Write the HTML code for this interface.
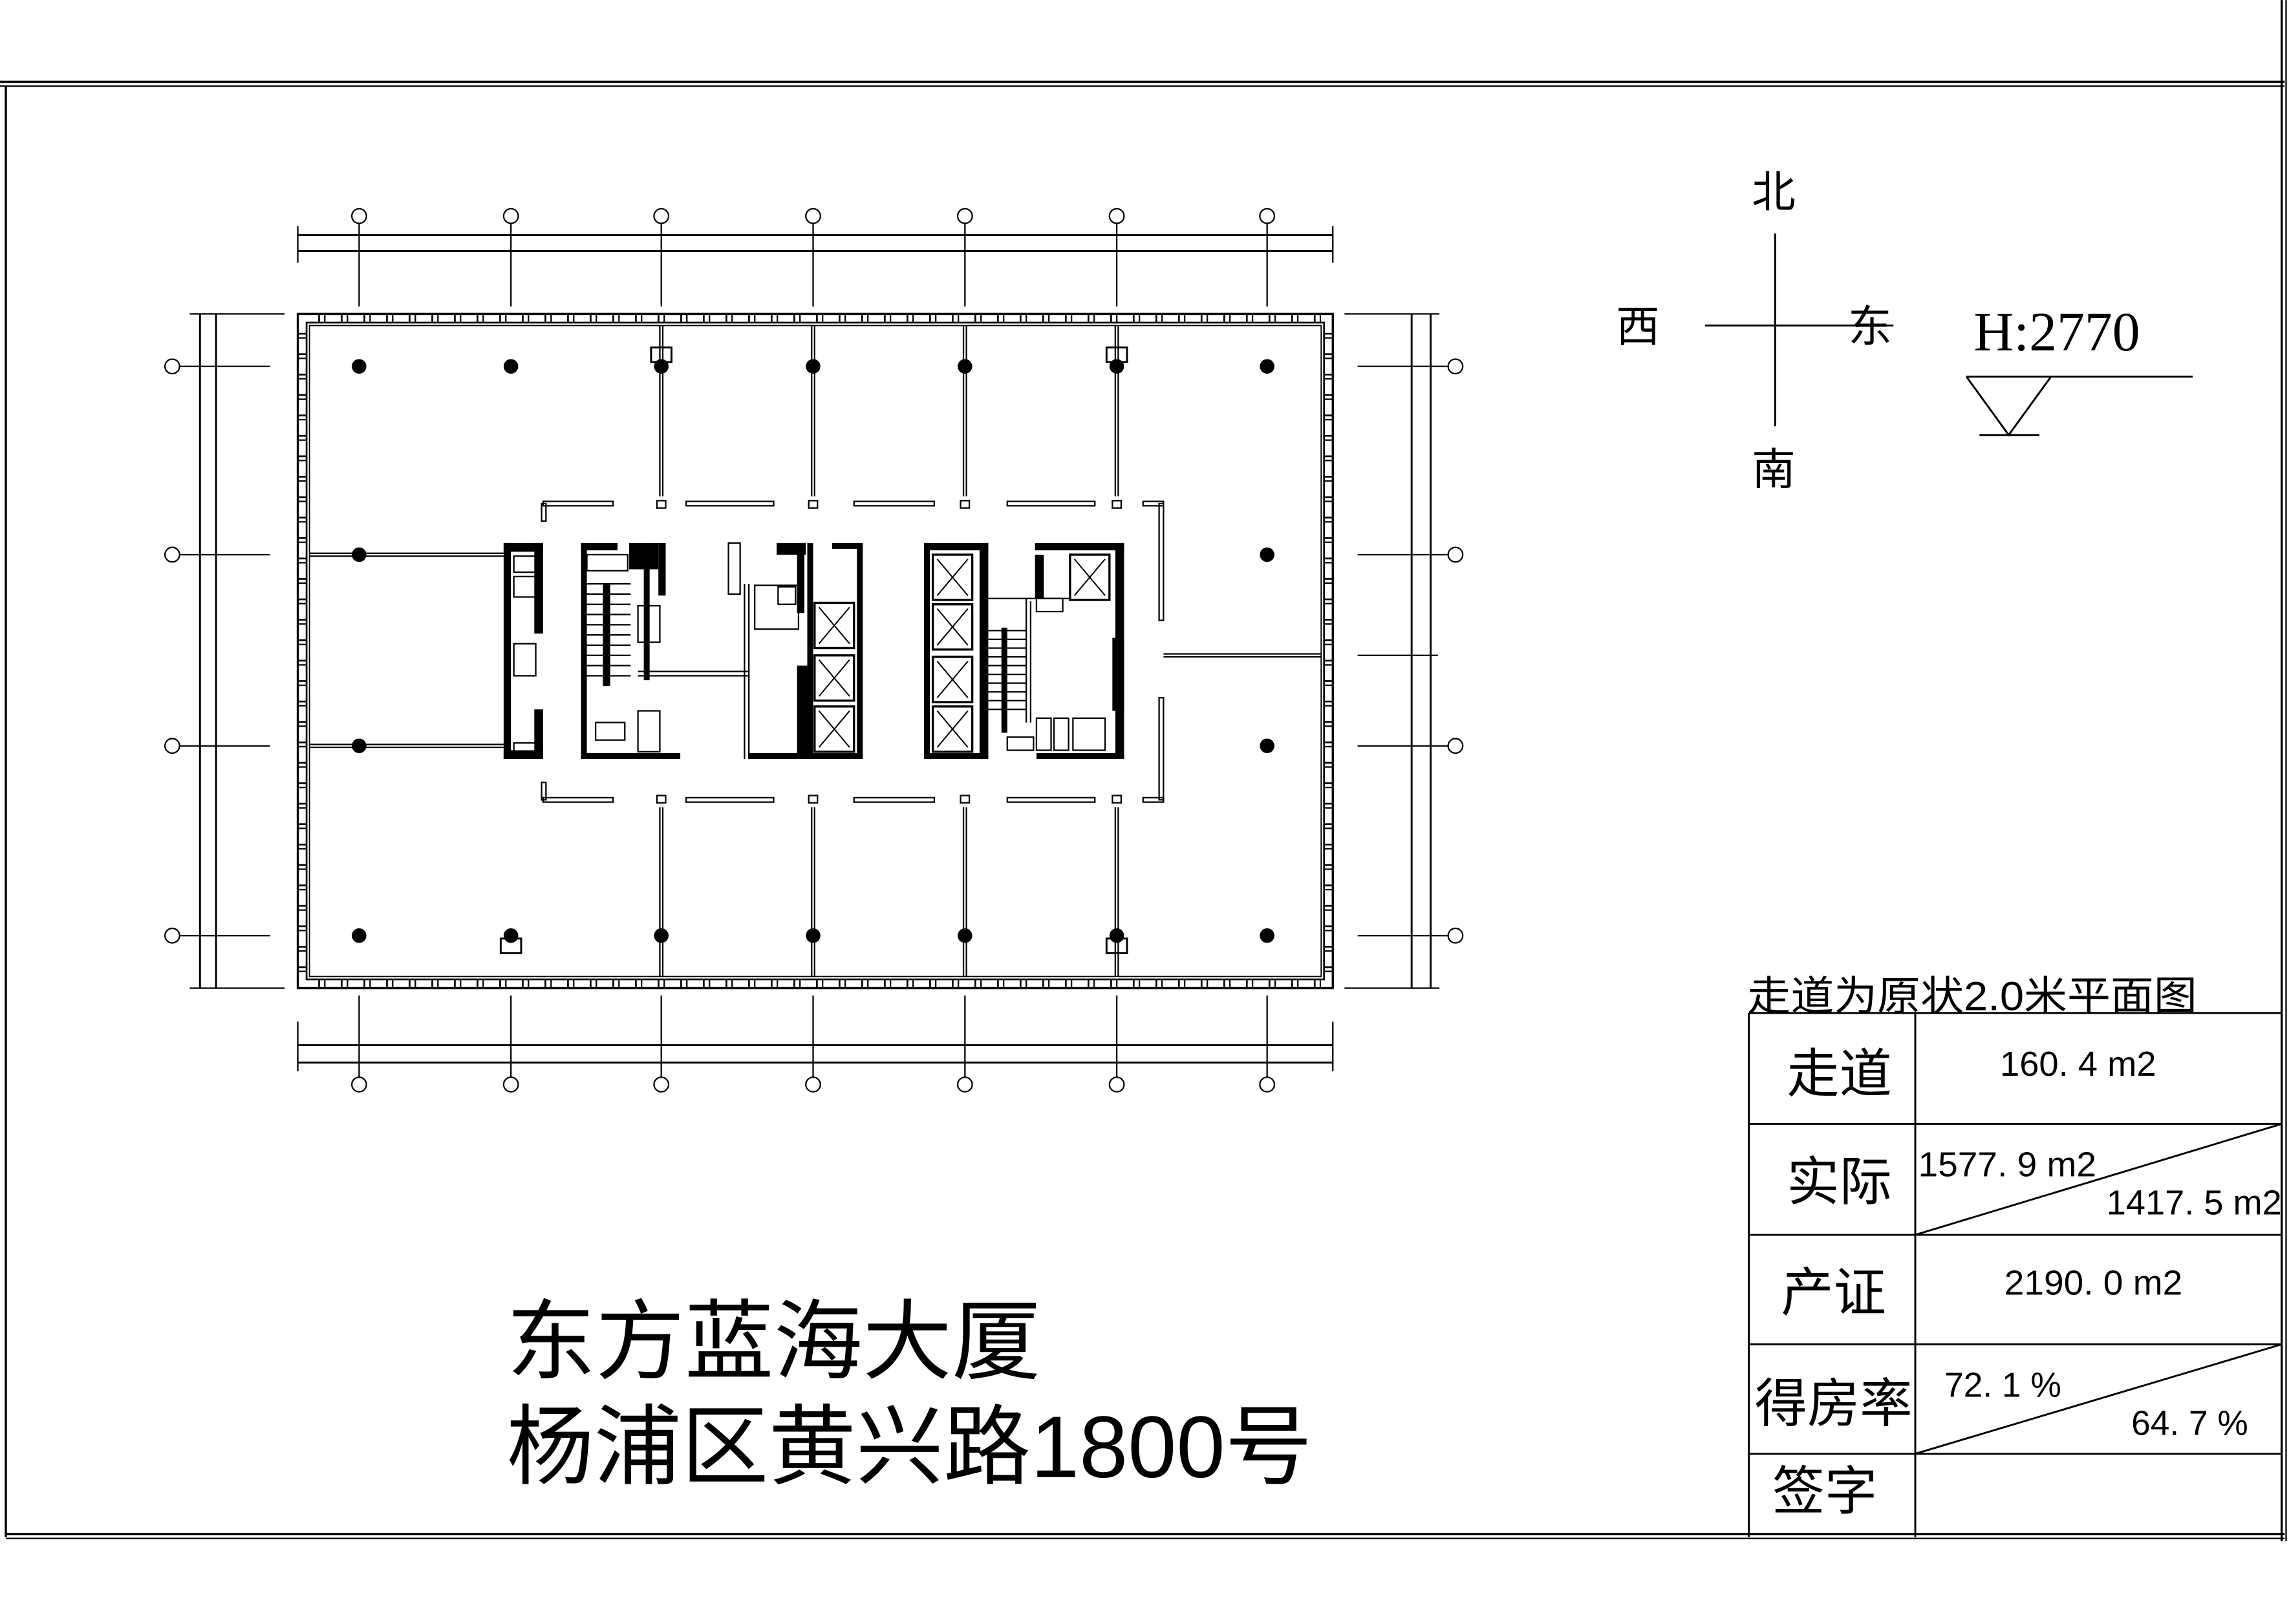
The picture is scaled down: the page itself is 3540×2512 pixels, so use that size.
<!DOCTYPE html>
<html><head><meta charset="utf-8">
<style>
html,body{margin:0;padding:0;background:#fff;}
svg{display:block;}
text{font-family:"Liberation Sans","Noto Sans CJK SC",sans-serif;fill:#000;}
</style></head>
<body>
<svg xmlns="http://www.w3.org/2000/svg" width="3540" height="2512" viewBox="0 0 1568 1112.6">
<defs>
<pattern id="pv" patternUnits="userSpaceOnUse" x="218" y="0" width="15.5" height="10"><rect x="0" y="0" width="1.2" height="10" fill="#000"/><rect x="4" y="0" width="1" height="10" fill="#000"/></pattern>
<pattern id="ph" patternUnits="userSpaceOnUse" x="0" y="228" width="10" height="14"><rect x="0" y="0" width="10" height="1.2" fill="#000"/><rect x="0" y="3" width="10" height="1" fill="#000"/></pattern>
<g id="elev"><rect x="0" y="0" width="27" height="31" fill="none" stroke="#000" stroke-width="1.5"/><line x1="3" y1="3" x2="24" y2="28" stroke="#000" stroke-width="0.9"/><line x1="24" y1="3" x2="3" y2="28" stroke="#000" stroke-width="0.9"/></g>
</defs>
<rect width="1568" height="1112.6" fill="#fff"/>
<g stroke="#000" fill="none">
<line x1="0" y1="56" x2="1565" y2="56" stroke-width="1.5"/>
<line x1="0" y1="59" x2="1565" y2="59" stroke-width="1"/>
<line x1="4" y1="59" x2="4" y2="1053" stroke-width="1.5"/>
<line x1="1563" y1="0" x2="1563" y2="1056" stroke-width="1.5"/>
<line x1="1566" y1="0" x2="1566" y2="1056" stroke-width="1"/>
<line x1="4" y1="1051" x2="1565" y2="1051" stroke-width="1.5"/>
<line x1="4" y1="1054" x2="1565" y2="1054" stroke-width="1"/>
<rect x="204" y="215" width="709" height="462" stroke-width="1.5"/>
<rect x="210" y="221" width="697" height="450" stroke-width="1.2"/>
<rect x="212" y="223" width="693" height="446" stroke-width="0.8"/>
</g>
<!-- mullions -->
<rect x="214" y="215" width="691" height="6" fill="url(#pv)"/>
<rect x="214" y="671" width="691" height="6" fill="url(#pv)"/>
<rect x="204" y="224" width="6" height="444" fill="url(#ph)"/>
<rect x="907" y="224" width="6" height="444" fill="url(#ph)"/>

<g stroke="#000" stroke-width="1" fill="none">
<!-- dims top -->
<line x1="204" y1="161" x2="913" y2="161" stroke-width="1.3"/>
<line x1="204" y1="172" x2="913" y2="172" stroke-width="1.3"/>
<line x1="204" y1="155" x2="204" y2="180"/><line x1="913" y1="155" x2="913" y2="180"/>
<line x1="246" y1="153" x2="246" y2="210"/><line x1="350" y1="153" x2="350" y2="210"/><line x1="453" y1="153" x2="453" y2="210"/><line x1="557" y1="153" x2="557" y2="210"/><line x1="661" y1="153" x2="661" y2="210"/><line x1="765" y1="153" x2="765" y2="210"/><line x1="868" y1="153" x2="868" y2="210"/>
<circle cx="246" cy="148" r="5"/><circle cx="350" cy="148" r="5"/><circle cx="453" cy="148" r="5"/><circle cx="557" cy="148" r="5"/><circle cx="661" cy="148" r="5"/><circle cx="765" cy="148" r="5"/><circle cx="868" cy="148" r="5"/>
<!-- dims bottom -->
<line x1="204" y1="716" x2="913" y2="716" stroke-width="1.3"/>
<line x1="204" y1="728" x2="913" y2="728" stroke-width="1.3"/>
<line x1="204" y1="700" x2="204" y2="734"/><line x1="913" y1="700" x2="913" y2="734"/>
<line x1="246" y1="682" x2="246" y2="738"/><line x1="350" y1="682" x2="350" y2="738"/><line x1="453" y1="682" x2="453" y2="738"/><line x1="557" y1="682" x2="557" y2="738"/><line x1="661" y1="682" x2="661" y2="738"/><line x1="765" y1="682" x2="765" y2="738"/><line x1="868" y1="682" x2="868" y2="738"/>
<circle cx="246" cy="743" r="5"/><circle cx="350" cy="743" r="5"/><circle cx="453" cy="743" r="5"/><circle cx="557" cy="743" r="5"/><circle cx="661" cy="743" r="5"/><circle cx="765" cy="743" r="5"/><circle cx="868" cy="743" r="5"/>
<!-- dims left -->
<line x1="137" y1="215" x2="137" y2="677" stroke-width="1.3"/>
<line x1="148" y1="215" x2="148" y2="677" stroke-width="1.3"/>
<line x1="130" y1="215" x2="195" y2="215"/><line x1="130" y1="677" x2="195" y2="677"/>
<line x1="123" y1="251" x2="185" y2="251"/><line x1="123" y1="380" x2="185" y2="380"/><line x1="123" y1="511" x2="185" y2="511"/><line x1="123" y1="641" x2="185" y2="641"/>
<circle cx="118" cy="251" r="5"/><circle cx="118" cy="380" r="5"/><circle cx="118" cy="511" r="5"/><circle cx="118" cy="641" r="5"/>
<!-- dims right -->
<line x1="967" y1="215" x2="967" y2="677" stroke-width="1.3"/>
<line x1="980" y1="215" x2="980" y2="677" stroke-width="1.3"/>
<line x1="921" y1="215" x2="986" y2="215"/><line x1="921" y1="677" x2="986" y2="677"/>
<line x1="930" y1="251" x2="992" y2="251"/><line x1="930" y1="380" x2="992" y2="380"/><line x1="930" y1="449" x2="985" y2="449"/><line x1="930" y1="511" x2="992" y2="511"/><line x1="930" y1="641" x2="992" y2="641"/>
<circle cx="997" cy="251" r="5"/><circle cx="997" cy="380" r="5"/><circle cx="997" cy="511" r="5"/><circle cx="997" cy="641" r="5"/>
<!-- partitions -->
<line x1="452" y1="223" x2="452" y2="340"/><line x1="454" y1="223" x2="454" y2="340"/>
<line x1="556" y1="223" x2="556" y2="340"/><line x1="558" y1="223" x2="558" y2="340"/>
<line x1="660" y1="223" x2="660" y2="340"/><line x1="662" y1="223" x2="662" y2="340"/>
<line x1="764" y1="223" x2="764" y2="340"/><line x1="766" y1="223" x2="766" y2="340"/>
<line x1="452" y1="553" x2="452" y2="669"/><line x1="454" y1="553" x2="454" y2="669"/>
<line x1="556" y1="553" x2="556" y2="669"/><line x1="558" y1="553" x2="558" y2="669"/>
<line x1="660" y1="553" x2="660" y2="669"/><line x1="662" y1="553" x2="662" y2="669"/>
<line x1="764" y1="553" x2="764" y2="669"/><line x1="766" y1="553" x2="766" y2="669"/>
<line x1="212" y1="379" x2="345" y2="379"/><line x1="212" y1="381" x2="345" y2="381"/>
<line x1="212" y1="510" x2="345" y2="510"/><line x1="212" y1="512" x2="345" y2="512"/>
<line x1="797" y1="448" x2="905" y2="448"/><line x1="797" y1="450" x2="905" y2="450"/>
<rect x="446" y="238" width="14" height="10" stroke-width="1.3"/><rect x="758" y="238" width="14" height="10" stroke-width="1.3"/>
<rect x="343" y="643" width="14" height="10" stroke-width="1.3"/><rect x="758" y="643" width="14" height="10" stroke-width="1.3"/>
<!-- corridor dashed outline -->
<rect x="372" y="343.5" width="48" height="3"/><rect x="470" y="343.5" width="60" height="3"/><rect x="585" y="343.5" width="55" height="3"/><rect x="690" y="343.5" width="60" height="3"/><rect x="783" y="343.5" width="14" height="3"/>
<rect x="372" y="546.5" width="48" height="3"/><rect x="470" y="546.5" width="60" height="3"/><rect x="585" y="546.5" width="55" height="3"/><rect x="690" y="546.5" width="60" height="3"/><rect x="783" y="546.5" width="14" height="3"/>
<rect x="371" y="345" width="3" height="12"/><rect x="371" y="536" width="3" height="12"/>
<rect x="794" y="345" width="3" height="80"/><rect x="794" y="478" width="3" height="70"/>
<rect x="450" y="343" width="6" height="5"/><rect x="554" y="343" width="6" height="5"/><rect x="658" y="343" width="6" height="5"/><rect x="762" y="343" width="6" height="5"/>
<rect x="450" y="545" width="6" height="5"/><rect x="554" y="545" width="6" height="5"/><rect x="658" y="545" width="6" height="5"/><rect x="762" y="545" width="6" height="5"/>
<!-- core thin -->
<rect x="352" y="381" width="15" height="11"/><rect x="352" y="395" width="15" height="14"/><rect x="352" y="441" width="15" height="22"/><rect x="352" y="509" width="15" height="8"/>
<rect x="402" y="380" width="28" height="11"/><rect x="499" y="372" width="8" height="35"/><rect x="517" y="401" width="30" height="30"/><rect x="533" y="402" width="12" height="12"/>
<line x1="437" y1="460" x2="513" y2="460"/><line x1="437" y1="463" x2="513" y2="463"/><line x1="510" y1="400" x2="510" y2="520"/><line x1="513" y1="400" x2="513" y2="520"/>
<rect x="437" y="415" width="15" height="25"/><rect x="437" y="487" width="15" height="28"/><rect x="408" y="495" width="20" height="12"/>
<line x1="402" y1="400" x2="432" y2="400"/><line x1="402" y1="407" x2="432" y2="407"/><line x1="402" y1="414" x2="432" y2="414"/><line x1="402" y1="421" x2="432" y2="421"/><line x1="402" y1="428" x2="432" y2="428"/><line x1="402" y1="435" x2="432" y2="435"/><line x1="402" y1="442" x2="432" y2="442"/><line x1="402" y1="449" x2="432" y2="449"/><line x1="402" y1="456" x2="432" y2="456"/><line x1="402" y1="463" x2="432" y2="463"/>
<line x1="672" y1="432" x2="703" y2="432"/><line x1="672" y1="438" x2="703" y2="438"/><line x1="672" y1="444" x2="703" y2="444"/><line x1="672" y1="450" x2="703" y2="450"/><line x1="672" y1="456" x2="703" y2="456"/><line x1="672" y1="462" x2="703" y2="462"/><line x1="672" y1="468" x2="703" y2="468"/><line x1="672" y1="474" x2="703" y2="474"/><line x1="672" y1="480" x2="703" y2="480"/><line x1="672" y1="486" x2="703" y2="486"/>
<line x1="677" y1="410" x2="733" y2="410"/><line x1="703" y1="410" x2="703" y2="495"/><line x1="706" y1="412" x2="706" y2="495"/>
<rect x="710" y="410" width="18" height="9"/><rect x="710" y="492" width="10" height="22"/><rect x="722" y="492" width="10" height="22"/><rect x="735" y="492" width="22" height="22"/><rect x="690" y="505" width="18" height="9"/>
</g>
<!-- columns -->
<g fill="#000">
<circle cx="246" cy="251" r="5"/><circle cx="350" cy="251" r="5"/><circle cx="453" cy="251" r="5"/><circle cx="557" cy="251" r="5"/><circle cx="661" cy="251" r="5"/><circle cx="765" cy="251" r="5"/><circle cx="868" cy="251" r="5"/>
<circle cx="246" cy="641" r="5"/><circle cx="350" cy="641" r="5"/><circle cx="453" cy="641" r="5"/><circle cx="557" cy="641" r="5"/><circle cx="661" cy="641" r="5"/><circle cx="765" cy="641" r="5"/><circle cx="868" cy="641" r="5"/>
<circle cx="246" cy="380" r="5"/><circle cx="868" cy="380" r="5"/><circle cx="246" cy="511" r="5"/><circle cx="868" cy="511" r="5"/>
<!-- core solid walls -->
<rect x="345" y="372" width="27" height="6"/><rect x="345" y="372" width="5" height="148"/><rect x="345" y="514" width="27" height="6"/><rect x="366" y="372" width="6" height="62"/><rect x="366" y="486" width="6" height="34"/>
<rect x="398" y="372" width="25" height="5"/><rect x="398" y="372" width="4" height="148"/><rect x="398" y="516" width="68" height="4"/>
<rect x="431" y="372" width="20" height="18"/><rect x="441" y="372" width="4" height="94"/><rect x="451" y="372" width="5" height="36"/>
<rect x="532" y="372" width="20" height="8"/><rect x="553" y="372" width="4" height="148"/><rect x="546" y="372" width="5" height="48"/>
<rect x="513" y="516" width="78" height="4"/><rect x="587" y="372" width="4" height="148"/><rect x="570" y="372" width="21" height="4"/><rect x="546" y="456" width="8" height="60"/>
<rect x="413" y="400" width="5" height="70"/>
<rect x="633" y="372" width="44" height="5"/><rect x="633" y="372" width="4" height="148"/><rect x="633" y="516" width="44" height="4"/><rect x="671" y="372" width="6" height="148"/>
<rect x="709" y="372" width="61" height="5"/><rect x="764" y="372" width="6" height="148"/><rect x="710" y="516" width="60" height="4"/><rect x="709" y="380" width="6" height="30"/><rect x="762" y="437" width="8" height="50"/>
<rect x="686" y="430" width="4" height="72"/>
</g>
<use href="#elev" x="558" y="413"/><use href="#elev" x="558" y="449"/><use href="#elev" x="558" y="484"/>
<use href="#elev" x="639" y="380"/><use href="#elev" x="639" y="414"/><use href="#elev" x="639" y="450"/><use href="#elev" x="639" y="484"/><use href="#elev" x="733" y="380"/>
<!-- compass -->
<g stroke="#000" stroke-width="1.3">
<line x1="1216" y1="160" x2="1216" y2="292"/>
<line x1="1168" y1="223" x2="1297" y2="223"/>
<line x1="1347" y1="258" x2="1502" y2="258"/>
<polyline points="1347,258 1376,298 1405,258" fill="none"/>
<line x1="1356" y1="298" x2="1397" y2="298"/>
</g>
<text x="1215" y="142" font-size="30" text-anchor="middle">北</text>
<text x="1215" y="332" font-size="30" text-anchor="middle">南</text>
<text x="1122" y="234" font-size="30" text-anchor="middle">西</text>
<text x="1281" y="234" font-size="30" text-anchor="middle">东</text>
<text x="1352" y="240" font-size="38" style="font-family:'Liberation Serif',serif">H:2770</text>
<!-- table -->
<text x="1197" y="692" font-size="28" textLength="308" lengthAdjust="spacingAndGlyphs">走道为原状2.0米平面图</text>
<g stroke="#000" stroke-width="1.3" fill="none">
<line x1="1198" y1="694" x2="1563" y2="694"/>
<line x1="1198" y1="770" x2="1563" y2="770"/>
<line x1="1198" y1="846" x2="1563" y2="846"/>
<line x1="1198" y1="921" x2="1563" y2="921"/>
<line x1="1198" y1="996" x2="1563" y2="996"/>
<line x1="1198" y1="694" x2="1198" y2="1053"/>
<line x1="1312" y1="694" x2="1312" y2="1053"/>
<line x1="1312" y1="846" x2="1563" y2="770"/>
<line x1="1312" y1="996" x2="1563" y2="921"/>
</g>
<g font-size="36" text-anchor="middle">
<text x="1260" y="748">走道</text>
<text x="1260" y="822">实际</text>
<text x="1256" y="898">产证</text>
<text x="1256" y="974">得房率</text>
<text x="1250" y="1034">签字</text>
</g>
<g font-size="24">
<text x="1370" y="737" textLength="107" lengthAdjust="spacingAndGlyphs">160. 4  m2</text>
<text x="1314" y="806" textLength="122" lengthAdjust="spacingAndGlyphs">1577. 9  m2</text>
<text x="1443" y="832" textLength="120" lengthAdjust="spacingAndGlyphs">1417. 5  m2</text>
<text x="1373" y="887" textLength="122" lengthAdjust="spacingAndGlyphs">2190. 0  m2</text>
<text x="1332" y="957" textLength="80" lengthAdjust="spacingAndGlyphs">72. 1  %</text>
<text x="1460" y="983" textLength="80" lengthAdjust="spacingAndGlyphs">64. 7  %</text>
</g>
<text x="347" y="940" font-size="60" textLength="366" lengthAdjust="spacingAndGlyphs">东方蓝海大厦</text>
<text x="347" y="1012" font-size="60" textLength="552" lengthAdjust="spacingAndGlyphs">杨浦区黄兴路1800号</text>
</svg>
</body></html>
